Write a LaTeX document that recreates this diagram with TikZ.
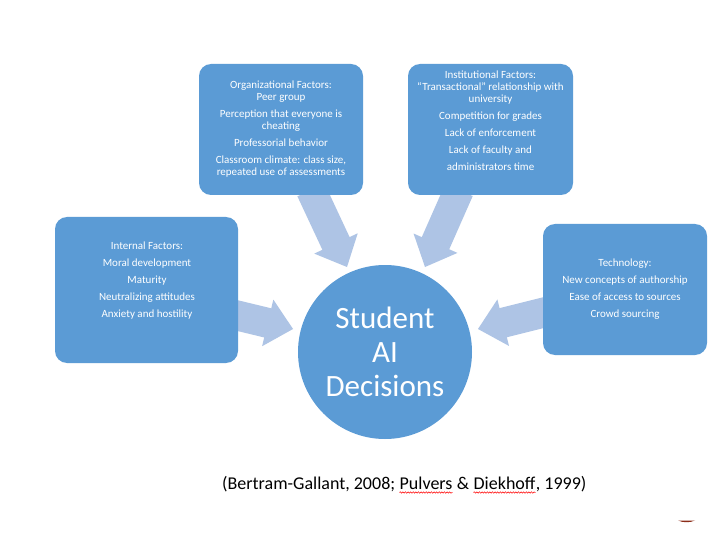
\documentclass[tikz,border=0pt]{standalone}
\usepackage{fontspec}
\setmainfont{Carlito}
\usetikzlibrary{calc,decorations.pathmorphing}
\definecolor{boxblue}{RGB}{91,155,213}
\definecolor{arrowblue}{RGB}{174,196,229}
\definecolor{markred}{RGB}{140,45,25}
\tikzset{
  factorbox/.style={fill=boxblue, rounded corners=12pt, inner sep=0pt, draw=none},
  factortext/.style={text=white, align=center, inner sep=0pt,
    font=\fontsize{11}{12}\selectfont},
  hubcircle/.style={circle, fill=boxblue, minimum size=174pt, inner sep=0pt,
    text=white, align=center, font=\fontsize{31}{34}\selectfont},
  citetext/.style={text=black, inner sep=0pt, anchor=base west,
    font=\fontsize{18}{20}\selectfont},
  bigarrow/.style={fill=arrowblue, draw=none},
  spellwave/.style={draw=red, line width=0.5pt, decorate,
    decoration={snake, amplitude=0.7pt, segment length=2.6pt}}
}
% fat arrow from #1 (start) to #2 (tip)
\newcommand{\fatarrow}[2]{%
  \fill[bigarrow]
    ($(#1)!15pt!90:(#2)$) --
    ($($(#2)!26pt!(#1)$)!15pt!-90:(#1)$) --
    ($($(#2)!26pt!(#1)$)!24pt!-90:(#1)$) --
    (#2) --
    ($($(#2)!26pt!(#1)$)!24pt!90:(#1)$) --
    ($($(#2)!26pt!(#1)$)!15pt!90:(#1)$) --
    ($(#1)!15pt!-90:(#2)$) -- cycle;}
\begin{document}
\begin{tikzpicture}[x=1pt,y=-1pt]
\useasboundingbox (0,0) rectangle (720,540);
\fill[white] (0,0) rectangle (720,540);

% arrow anchor coordinates
\coordinate (orgS) at (311,190);
\coordinate (orgT) at (347,267);
\coordinate (instS) at (459,190);
\coordinate (instT) at (425,267);
\coordinate (intS) at (233,314.5);
\coordinate (intT) at (293,329);
\coordinate (techS) at (548,311.5);
\coordinate (techT) at (478,329);

\fatarrow{orgS}{orgT}
\fatarrow{instS}{instT}
\fatarrow{intS}{intT}
\fatarrow{techS}{techT}

% boxes
\node[factorbox, minimum width=164pt, minimum height=131pt] (org) at (281,129.5) {};
\node[factorbox, minimum width=165pt, minimum height=131pt] (inst) at (490.5,129.5) {};
\node[factorbox, minimum width=183pt, minimum height=146pt] (int) at (146.5,290) {};
\node[factorbox, minimum width=164pt, minimum height=131pt] (tech) at (625,289.5) {};

% hub
\node[hubcircle] (hub) at (385,352) {Student\\AI\\Decisions};

% box texts
\node[factortext] (orgtxt) at (281,129.2) {Organizational Factors:\\Peer group\\[5pt]
  Perception that everyone is\\cheating\\[5pt]
  Professorial behavior\\[5pt]
  Classroom climate: class size,\\repeated use of assessments};
\node[factortext] (insttxt) at (490.5,120.8) {Institutional Factors:\\
  “Transactional” relationship with\\university\\[5pt]
  Competition for grades\\[4.7pt]
  Lack of enforcement\\[4.7pt]
  Lack of faculty and\\[5pt]
  administrators time};
\node[factortext] (inttxt) at (147,280.3) {Internal Factors:\\[5pt]
  Moral development\\[5pt]
  Maturity\\[5pt]
  Neutralizing attitudes\\[5pt]
  Anxiety and hostility};
\node[factortext] (techtxt) at (625,289.5) {Technology:\\[5pt]
  New concepts of authorship\\[5pt]
  Ease of access to sources\\[5pt]
  Crowd sourcing};

% citation
\node[citetext] (citea) at (222,489) {(Bertram-Gallant, 2008;\ \null};
\node[citetext] (citeb) at (citea.base east) {Pulvers};
\node[citetext] (citec) at (citeb.base east) {\null\ \&\ \null};
\node[citetext] (cited) at (citec.base east) {Diekhoff};
\node[citetext] (citee) at (cited.base east) {, 1999)};
\draw[spellwave] ($(citeb.base west)+(0,3.5)$) -- ($(citeb.base east)+(0,3.5)$);
\draw[spellwave] ($(cited.base west)+(0,3.5)$) -- ($(cited.base east)+(0,3.5)$);

% small mark
\fill[markred] (678,520.5) .. controls (686,519.8) .. (695,520.5)
  .. controls (690,522.8) and (683,522.8) .. (678,520.5);
\end{tikzpicture}
\end{document}
